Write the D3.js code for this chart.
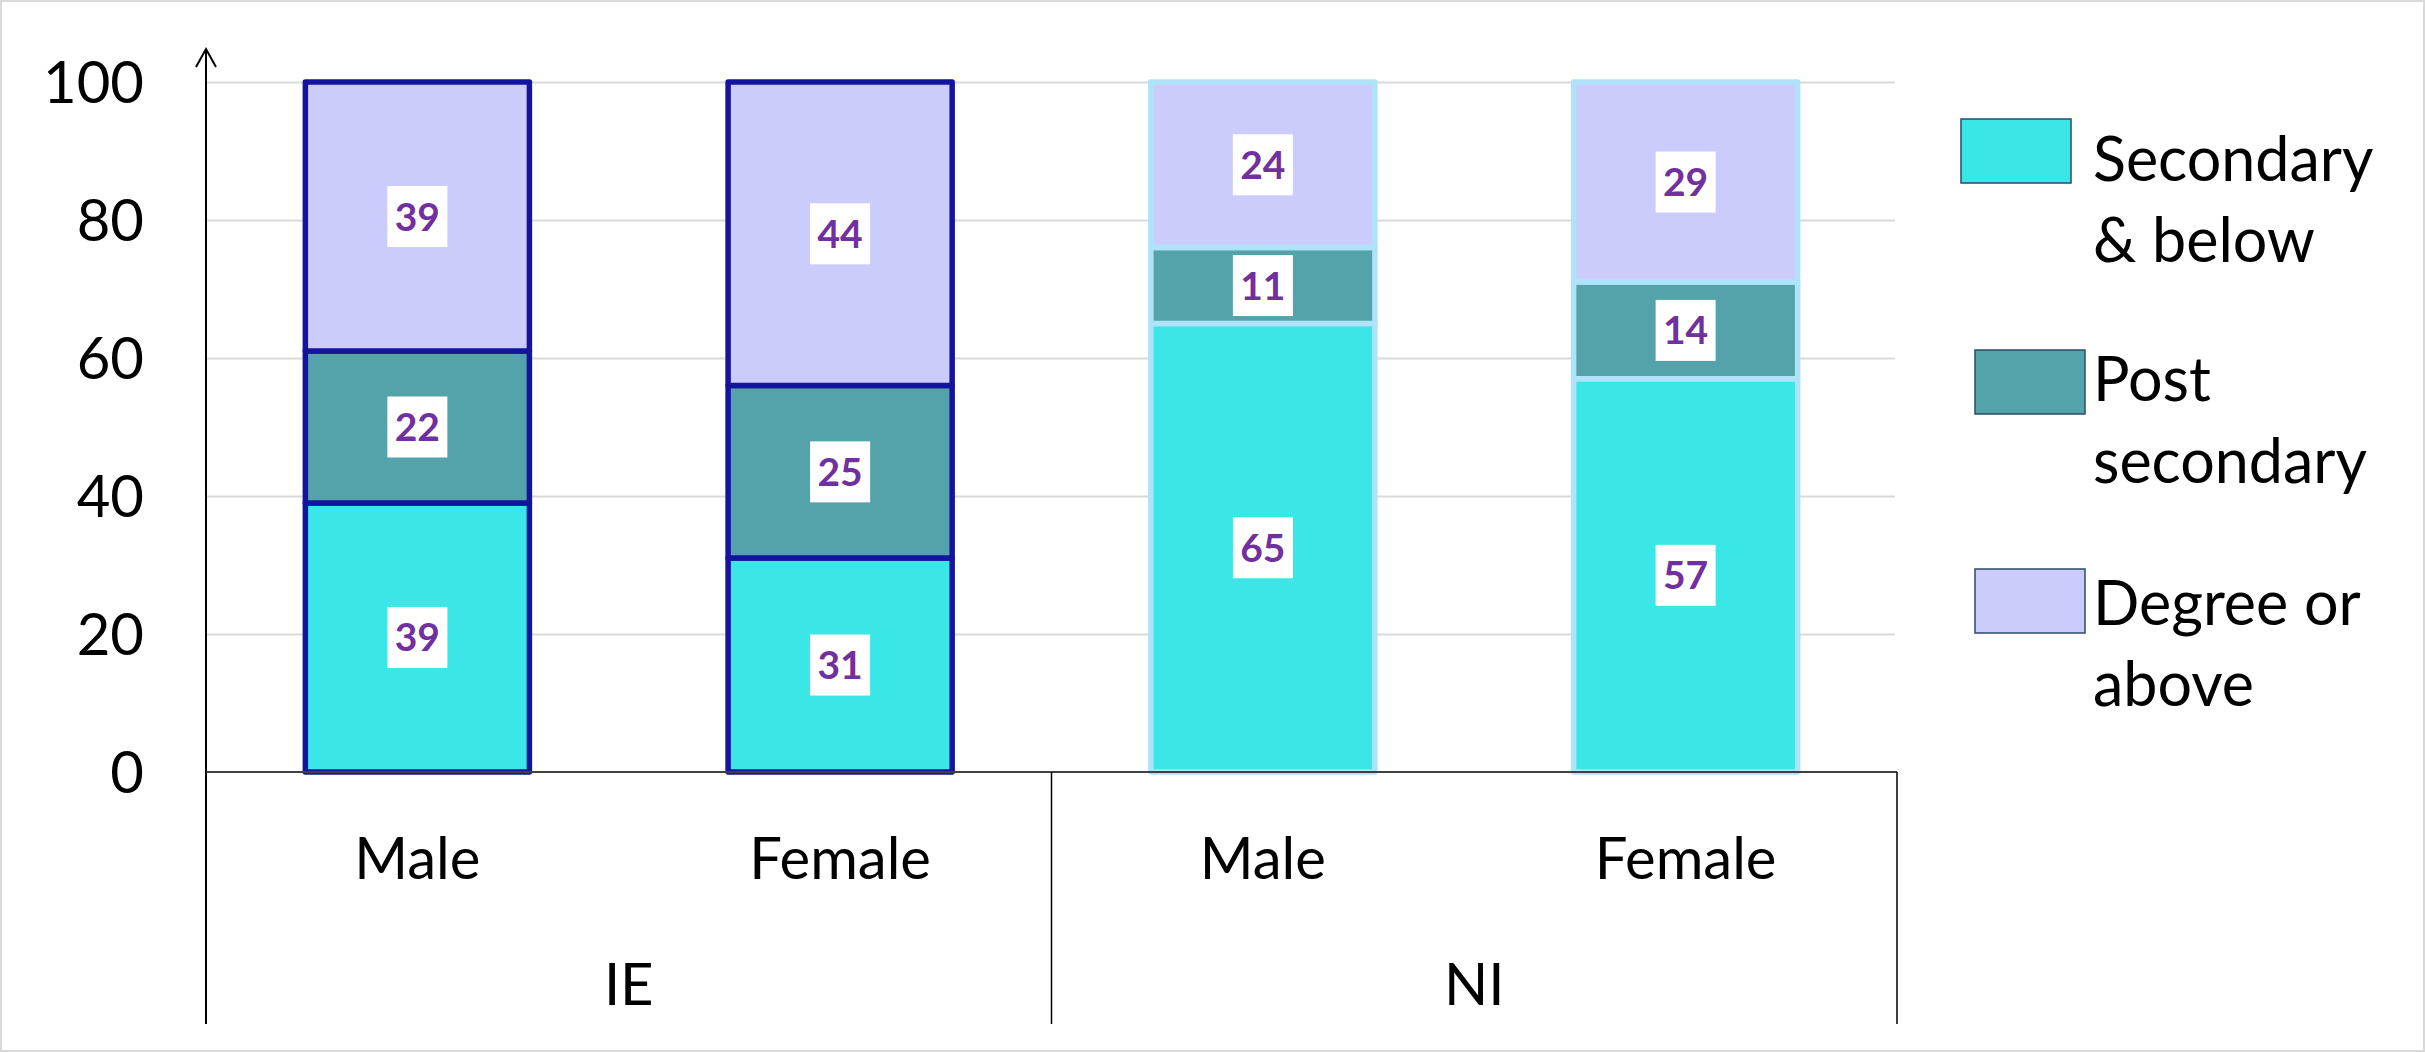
<!DOCTYPE html>
<html>
<head>
<meta charset="utf-8">
<script src="https://cdn.jsdelivr.net/npm/d3@7"></script>
<style>
  html, body { margin: 0; padding: 0; background: #fff; }
  svg { display: block; }
  text { font-family: Lato, "Open Sans", sans-serif; }
</style>
</head>
<body>
<svg id="chart" width="2425" height="1052"></svg>
<script>
// ---- data ----
const categories = ["Male", "Female", "Male", "Female"];
const groups = ["IE", "IE", "NI", "NI"];
const groupNames = ["IE", "NI"];
const seriesNames = ["Secondary & below", "Post secondary", "Degree or above"];
const legendLines = [["Secondary", "& below"], ["Post", "secondary"], ["Degree or", "above"]];
const secondaryBelow = [39, 31, 65, 57];
const postSecondary = [22, 25, 11, 14];
const degreeAbove = [39, 44, 24, 29];
const yTicks = [0, 20, 40, 60, 80, 100];

// ---- styles ----
const fills = ["#3be6e6", "#55a3aa", "#ccccfc"];
const groupStroke = { IE: "#1414a0", NI: "#aee3fa" };

(function () {
const svg = d3.select("#chart");
const W = 2425, H = 1052;
const plotLeft = 206, plotRight = 1897, plotTop = 82, base = 772, axisBottom = 1024;

// outer border
svg.append("rect").attr("x", 1).attr("y", 1).attr("width", W - 2).attr("height", H - 2)
  .attr("fill", "#fff").attr("stroke", "#d9d9d9").attr("stroke-width", 2);

const x = d3.scaleBand().domain(d3.range(categories.length)).range([plotLeft, plotRight])
  .paddingInner(0.47).paddingOuter(0.235);
const y = d3.scaleLinear().domain([0, 100]).range([base, plotTop]);

// gridlines + tick labels
const yAxis = d3.axisLeft(y).tickValues(yTicks).tickSize(-(plotRight - 2 - plotLeft)).tickPadding(62);
const gy = svg.append("g").attr("transform", `translate(${plotLeft},0)`).call(yAxis);
gy.select(".domain").remove();
gy.selectAll(".tick line").attr("stroke", "#d9d9d9").attr("stroke-width", 2)
  .attr("opacity", d => d === 0 ? 0 : 1);
gy.selectAll(".tick text").attr("font-size", 58).attr("fill", "#000")
  .attr("font-family", "Lato, sans-serif").attr("dy", "0.36em");

// stacked data
const rows = categories.map((c, i) => ({ i, group: groups[i], s0: secondaryBelow[i], s1: postSecondary[i], s2: degreeAbove[i] }));
const stacked = d3.stack().keys(["s0", "s1", "s2"])(rows);

const gBars = svg.append("g");
stacked.forEach((layer, k) => {
  gBars.selectAll(null).data(layer).enter().append("rect")
    .attr("x", d => x(d.data.i))
    .attr("y", d => y(d[1]))
    .attr("width", x.bandwidth())
    .attr("height", d => y(d[0]) - y(d[1]))
    .attr("fill", fills[k])
    .attr("stroke", d => groupStroke[d.data.group])
    .attr("stroke-width", 5.5)
    .attr("stroke-linejoin", "round");
});

// data labels
stacked.forEach((layer, k) => {
  const g = svg.append("g");
  layer.forEach(d => {
    const cx = x(d.data.i) + x.bandwidth() / 2;
    const cy = (y(d[0]) + y(d[1])) / 2;
    g.append("rect").attr("x", cx - 30).attr("y", cy - 30.5).attr("width", 60).attr("height", 61).attr("fill", "#fff");
    g.append("text").attr("x", cx).attr("y", cy).attr("dy", "0.36em")
      .attr("text-anchor", "middle").attr("font-size", 39).attr("font-weight", 700)
      .attr("fill", "#7030a0").text(d[1] - d[0]);
  });
});

// axes lines
const axisG = svg.append("g").attr("stroke", "#000").attr("stroke-width", 2).attr("fill", "none");
axisG.append("line").attr("x1", plotLeft).attr("x2", plotLeft).attr("y1", 50).attr("y2", axisBottom);
axisG.append("path").attr("d", `M${plotLeft - 10},67 L${plotLeft},49 L${plotLeft + 10},67`);
axisG.append("line").attr("x1", plotLeft).attr("x2", plotRight).attr("y1", base).attr("y2", base).attr("stroke", "#404040");
const groupBounds = [plotLeft, (x(1) + x(2) + x.bandwidth()) / 2, plotRight];
groupBounds.forEach(gx => {
  axisG.append("line").attr("x1", gx).attr("x2", gx).attr("y1", base).attr("y2", axisBottom).attr("stroke-width", 1.5);
});

// category labels
svg.append("g").selectAll("text").data(categories).enter().append("text")
  .attr("x", (d, i) => x(i) + x.bandwidth() / 2).attr("y", 858).attr("dy", "0.36em")
  .attr("text-anchor", "middle").attr("font-size", 58).attr("fill", "#000").text(d => d);
svg.append("g").selectAll("text").data(groupNames).enter().append("text")
  .attr("x", (d, i) => (groupBounds[i] + groupBounds[i + 1]) / 2).attr("y", 984).attr("dy", "0.36em")
  .attr("text-anchor", "middle").attr("font-size", 58).attr("fill", "#000").text(d => d);

// legend
const legendSw = [{ x: 1961, y: 119 }, { x: 1975, y: 350 }, { x: 1975, y: 569 }];
const legendTextY = [[159, 240], [379, 461], [603, 684]];
seriesNames.forEach((name, k) => {
  svg.append("rect").attr("x", legendSw[k].x).attr("y", legendSw[k].y).attr("width", 110).attr("height", 64)
    .attr("fill", fills[k]).attr("stroke", "#2b4a6b").attr("stroke-width", 1.5);
  legendLines[k].forEach((ln, j) => {
    svg.append("text").attr("x", 2093).attr("y", legendTextY[k][j]).attr("dy", "0.36em")
      .attr("font-size", 61).attr("fill", "#000").text(ln);
  });
});
})();
</script>
</body>
</html>
